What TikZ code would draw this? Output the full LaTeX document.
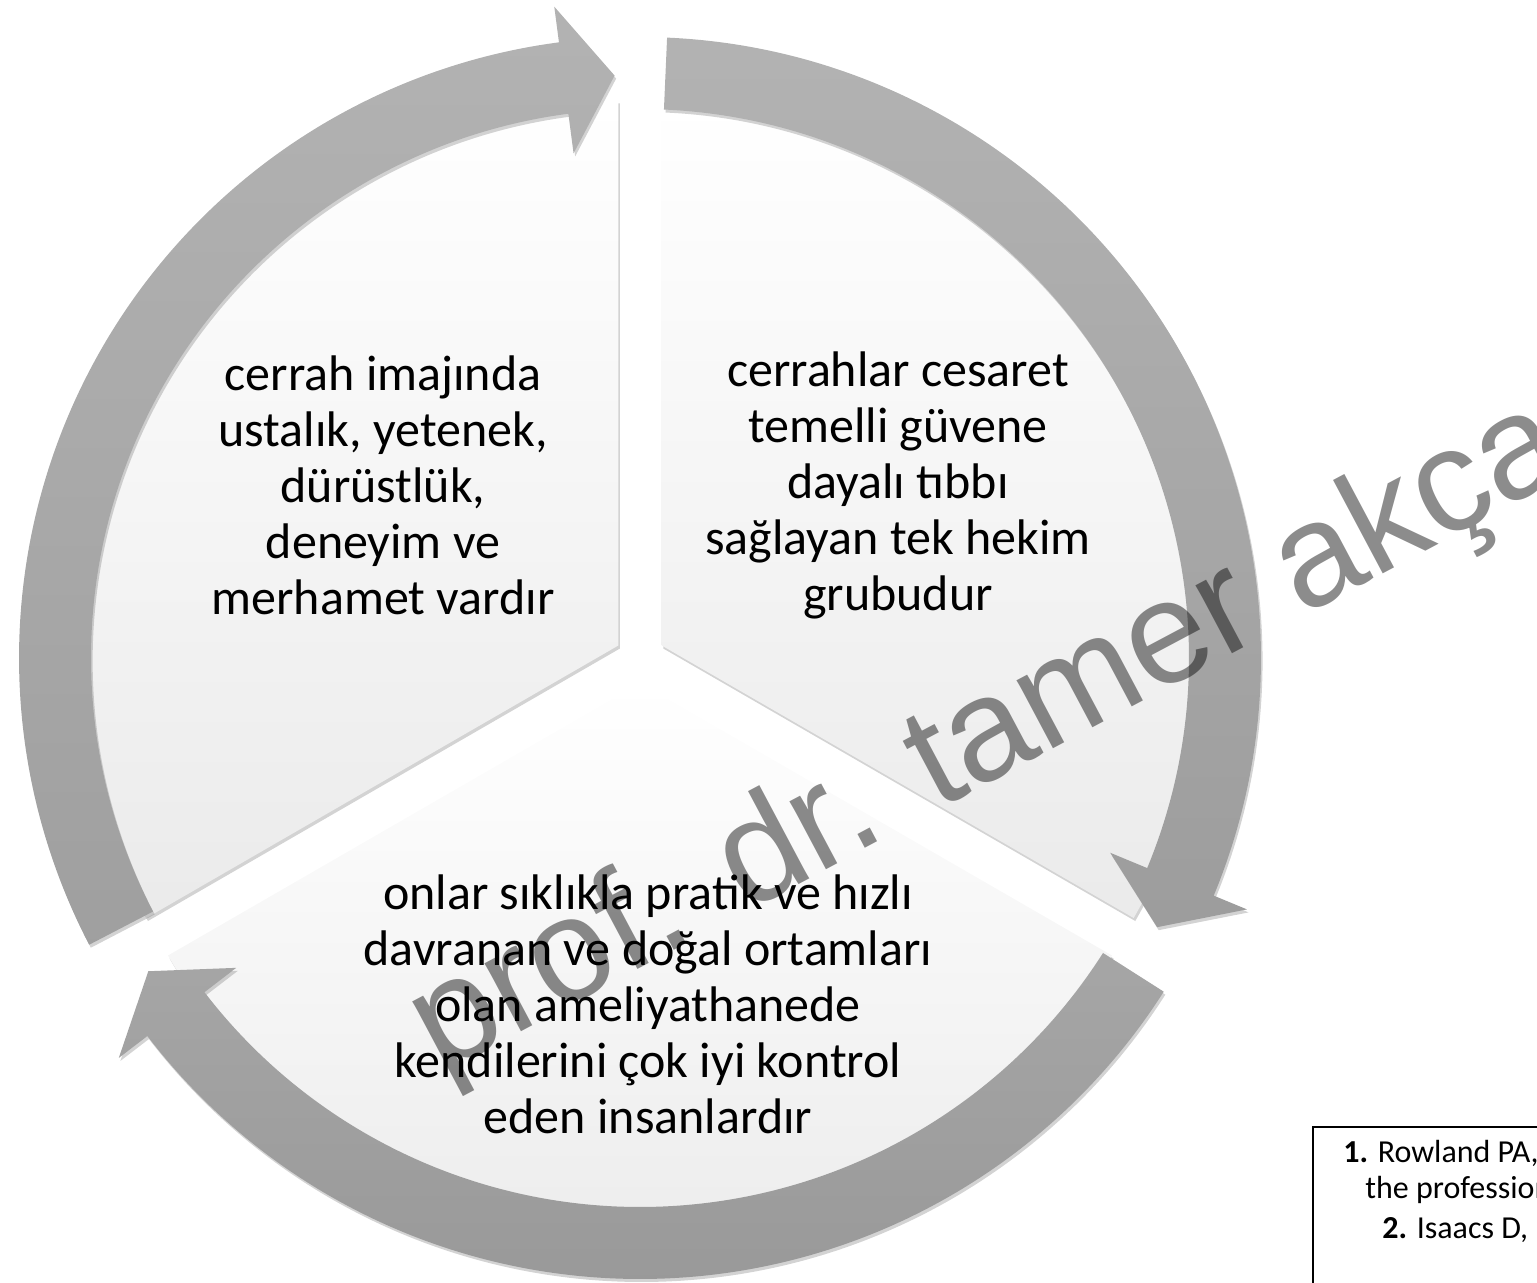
\documentclass[tikz,border=0pt]{standalone}
\usepackage{fontspec}
\setmainfont{Carlito}
\newfontfamily\wmfont{Liberation Sans}
\usetikzlibrary{shadows}
\tikzset{
  part/.style={top color=white, bottom color=gray!16,
    drop shadow={opacity=0.35, shadow xshift=0.8pt, shadow yshift=-1.5pt}},
  ring/.style={drop shadow={opacity=0.35, shadow xshift=0.8pt, shadow yshift=-1.5pt}},
  txt/.style={align=center, font=\fontsize{25}{28}\selectfont, inner sep=0pt},
  ref/.style={anchor=base west, font=\fontsize{16}{19}\selectfont, inner sep=0pt},
}
\begin{document}
\begin{tikzpicture}[x=0.5pt,y=0.5pt]
    \useasboundingbox (0,0) rectangle (1537,1282);
    \clip (0,0) rectangle (1537,1282);
    \coordinate (c) at (640,624);
    \begin{scope}[shift={(c)}]
        \path[part] (150:25) -- ++(90:545) arc[start angle=90,end angle=210,radius=545] -- cycle; % sol ust dilim
        \path[part] (30:25) -- ++(-30:545) arc[start angle=-30,end angle=90,radius=545] -- cycle; % sag ust dilim
        \path[part] (270:25) -- ++(210:545) arc[start angle=210,end angle=330,radius=545] -- cycle; % alt dilim
        \path[ring, top color=gray!60, bottom color=gray!75] (207.5:621) arc[start angle=207.5,end angle=97.5,radius=621] -- (97.5:657) -- (92.5:583) -- (97.5:509) -- (97.5:549) arc[start angle=97.5,end angle=207.5,radius=549] -- cycle; % sol ok
        \path[ring, top color=gray!60, bottom color=gray!77] (87.5:621) arc[start angle=87.5,end angle=-22.5,radius=621] -- (-22.5:657) -- (-27.5:583) -- (-22.5:509) -- (-22.5:549) arc[start angle=-22.5,end angle=87.5,radius=549] -- cycle; % sag ok
        \path[ring, top color=gray!70, bottom color=gray!80] (-32.5:621) arc[start angle=-32.5,end angle=-142.5,radius=621] -- (-142.5:657) -- (-147.5:583) -- (-142.5:509) -- (-142.5:549) arc[start angle=-142.5,end angle=-32.5,radius=549] -- cycle; % alt ok
    \end{scope}
    \node[txt] (t1) at (383,797) {cerrah imajında\\ustalık, yetenek,\\dürüstlük,\\deneyim ve\\merhamet vardır};
    \node[txt] (t2) at (898,797) {cerrahlar cesaret\\temelli güvene\\dayalı tıbbı\\sağlayan tek hekim\\grubudur};
    \node[txt] (t3) at (648,278) {onlar sıklıkla pratik ve hızlı\\davranan ve doğal ortamları\\olan ameliyathanede\\kendilerini çok iyi kontrol\\eden insanlardır};
    \node[rotate=28, text opacity=0.45, font=\wmfont\fontsize{73}{73}\selectfont, inner sep=0pt] (wm) at (990,542) {prof. dr. tamer akça}; % filigran
    \draw[line width=1pt] (1313,155) rectangle (1570,-20); % kaynak kutusu
    \node[ref] (r1) at (1343,120) {\textbf{1.} Rowland PA,};
    \node[ref] (r2) at (1365,84) {the profession};
    \node[ref] (r3) at (1382,44) {\textbf{2.} Isaacs D, F};
\end{tikzpicture}
\end{document}
